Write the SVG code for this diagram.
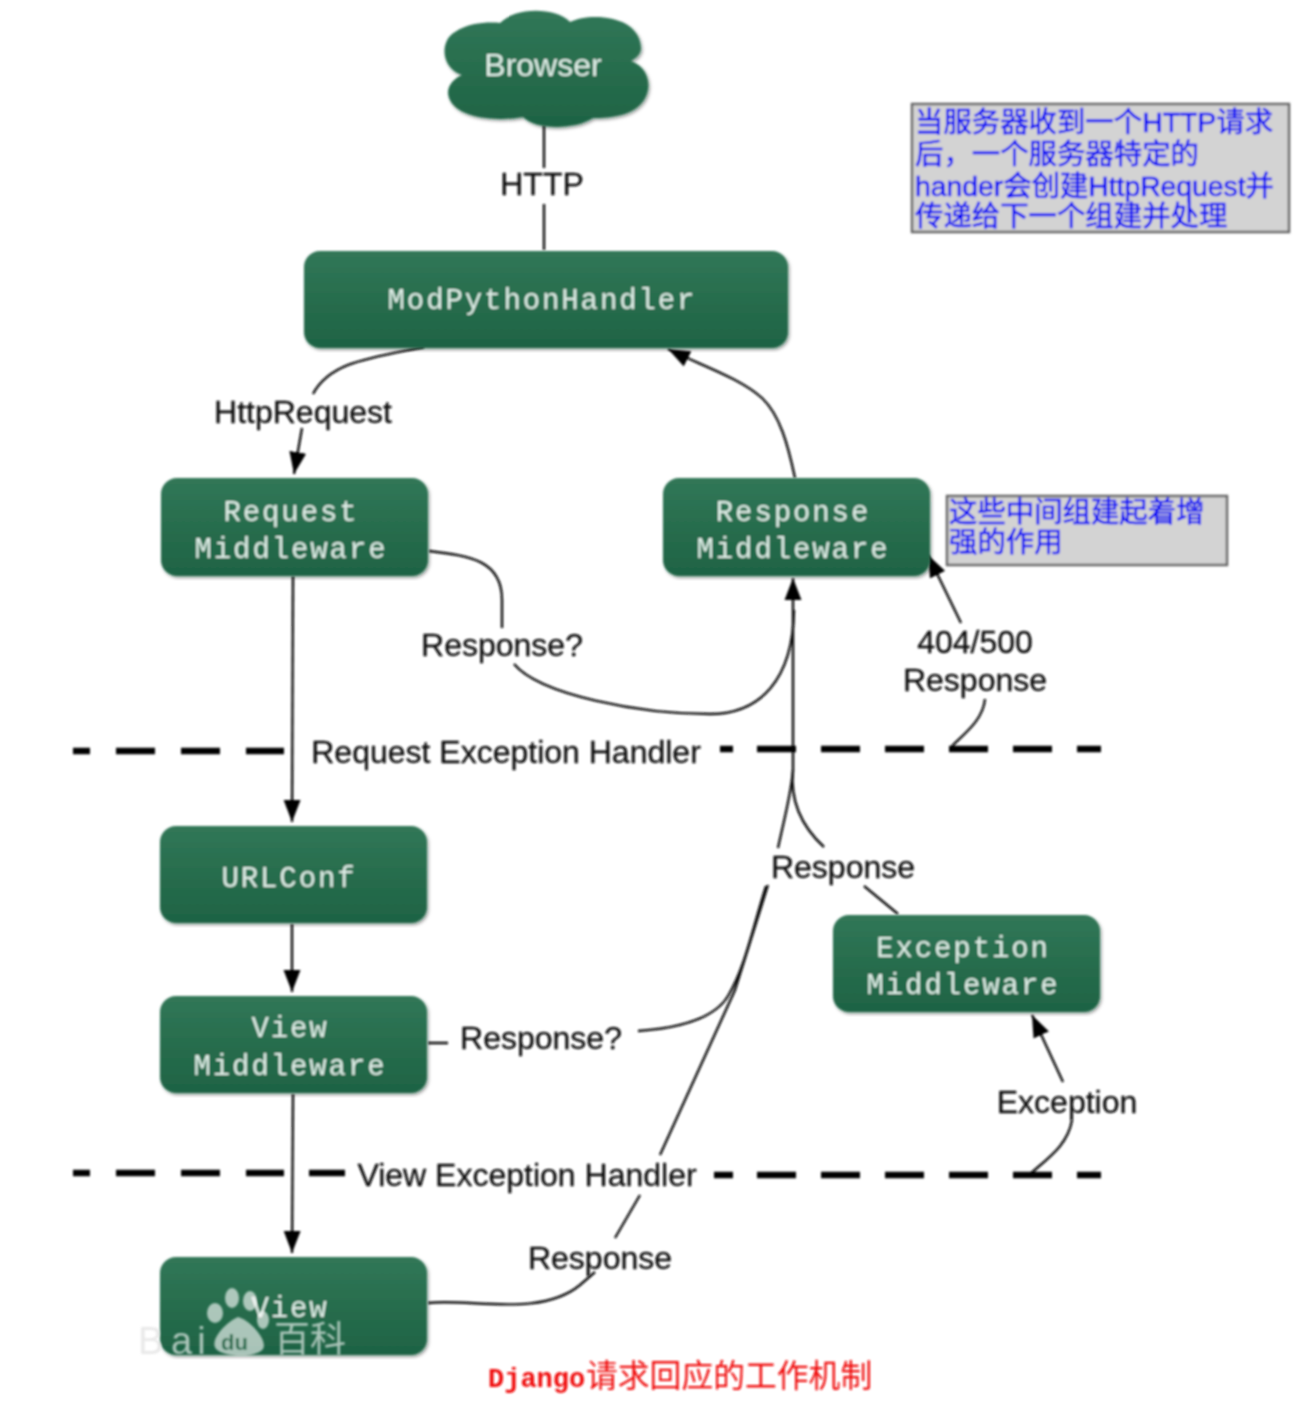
<svg xmlns="http://www.w3.org/2000/svg" width="1316" height="1418" viewBox="0 0 1316 1418">
<defs>
<linearGradient id="g" x1="0" y1="0" x2="0" y2="1"><stop offset="0" stop-color="#317757"/><stop offset="1" stop-color="#1e6344"/></linearGradient>
<filter id="s" x="-5%" y="-10%" width="110%" height="125%"><feDropShadow dx="1.5" dy="2" stdDeviation="1.5" flood-color="#000" flood-opacity=".4"/></filter>
<filter id="b" x="-5%" y="-5%" width="110%" height="110%"><feGaussianBlur stdDeviation="0.9"/></filter>
<marker id="a" markerUnits="userSpaceOnUse" markerWidth="24" markerHeight="20" refX="22" refY="9" orient="auto"><path d="M0 0.5L22 9L0 17.5z" fill="#000"/></marker>
</defs>
<style>
.n{fill:url(#g);filter:url(#s)}
.m{font-family:"Liberation Mono","DejaVu Sans Mono",monospace;font-size:29px;letter-spacing:1.9px;fill:#dfeee7;text-anchor:middle}
.l{font-family:"Liberation Sans",Arial,sans-serif;font-size:32px;fill:#111;stroke:#111;stroke-width:.3px;text-anchor:middle}
.c{fill:none;stroke:#111;stroke-width:2.4}
.d{fill:none;stroke:#000;stroke-width:6.5}
.note{fill:#d3d3d3;stroke:#666;stroke-width:2.5}
.t{font-family:"Liberation Sans","Noto Sans CJK SC",sans-serif;font-size:28.4px;fill:#0000f5;stroke:#0000f5;stroke-width:.5px}
</style>
<g id="connectors" filter="url(#b)">
<path class="c" d="M544 125V168M544 204V250"/>
<path class="c" d="M424 347C370 358 330 362 313 394"/>
<path class="c" marker-end="url(#a)" d="M302 428L294 474"/>
<path class="c" marker-end="url(#a)" d="M795 478C788 445 780 415 762 398C740 378 700 365 668 349"/>
<path class="c" d="M429 551C470 556 502 560 502 600V628M514 664C540 695 640 714 710 714C760 714 793 680 794 610"/>
<path class="c" marker-end="url(#a)" d="M793 770V578"/>
<path class="c" marker-end="url(#a)" d="M961 623L928 555"/>
<path class="c" d="M985 699C983 720 965 733 952 746"/>
<path class="c" marker-end="url(#a)" d="M293 576L292 822"/>
<path class="c" marker-end="url(#a)" d="M292 924V992"/>
<path class="c" marker-end="url(#a)" d="M293 1094L292 1253"/>
<path class="c" d="M428 1043H448M638 1031C680 1028 715 1018 728 996C745 968 752 930 766 886M778 848C785 815 791 795 793 770"/>
<path class="c" d="M793 770C790 800 800 825 824 847M864 886L898 914"/>
<path class="c" d="M428 1303C470 1298 540 1318 580 1285L595 1272M615 1238L640 1195M660 1155L735 990L768 885"/>
<path class="c" marker-end="url(#a)" d="M1063 1082L1032 1015"/>
<path class="c" d="M1072 1120C1068 1145 1048 1158 1030 1174"/>
<path class="d" d="M73 751H90M116 751H155M181 751H220M246 751H284"/>
<path class="d" d="M720 749H733M757 749H796M821 749H860M885 749H924M949 749H988M1013 749H1052M1077 749H1101"/>
<path class="d" d="M73 1173H90M116 1173H155M181 1173H220M246 1173H284M309 1173H345"/>
<path class="d" d="M714 1175H733M757 1175H796M821 1175H860M885 1175H924M949 1175H988M1013 1175H1052M1077 1175H1101"/>
</g>
<g id="browser" filter="url(#b)"><path class="n" d="M500 23C515 7 555 7 570 22C590 12 640 15 641 48C641 54 636 58 631 61C650 68 652 88 644 100C634 116 610 118 593 118C575 130 535 130 523 117C495 122 450 118 448 93C448 84 455 78 462 75C440 68 440 40 455 32C470 22 490 22 500 23Z"/><text x="543" y="76" text-anchor="middle" font-family="Liberation Sans,Arial,sans-serif" font-size="32" fill="#dfeee7">Browser</text></g>
<g id="handler" filter="url(#b)"><rect class="n" x="304" y="251" width="484" height="97" rx="16"/><text class="m" x="542" y="309">ModPythonHandler</text></g>
<g id="request-mw" filter="url(#b)"><rect class="n" x="161" y="478" width="267" height="98" rx="16"/><text class="m" x="291" y="521">Request</text><text class="m" x="291" y="558">Middleware</text></g>
<g id="response-mw" filter="url(#b)"><rect class="n" x="663" y="478" width="267" height="98" rx="16"/><text class="m" x="793" y="521">Response</text><text class="m" x="793" y="558">Middleware</text></g>
<g id="urlconf" filter="url(#b)"><rect class="n" x="160" y="826" width="267" height="97" rx="16"/><text class="m" x="289" y="887">URLConf</text></g>
<g id="view-mw" filter="url(#b)"><rect class="n" x="160" y="996" width="267" height="97" rx="16"/><text class="m" x="290" y="1037">View</text><text class="m" x="290" y="1075">Middleware</text></g>
<g id="exception-mw" filter="url(#b)"><rect class="n" x="833" y="915" width="267" height="97" rx="16"/><text class="m" x="963" y="957">Exception</text><text class="m" x="963" y="994">Middleware</text></g>
<g id="view" filter="url(#b)"><rect class="n" x="160" y="1257" width="267" height="98" rx="16"/><text class="m" x="290" y="1317">View</text></g>
<g id="watermark" filter="url(#b)" opacity=".62" fill="#fff">
<ellipse cx="215" cy="1313" rx="8" ry="10"/><ellipse cx="232" cy="1298" rx="7" ry="10"/><ellipse cx="250" cy="1301" rx="7" ry="10"/><ellipse cx="263" cy="1320" rx="6" ry="9"/>
<path d="M238 1317C250 1320 268 1340 263 1349C256 1358 225 1358 216 1349C209 1340 226 1322 238 1317Z"/>
<text x="138" y="1354" font-family="Liberation Sans,sans-serif" font-size="38" fill="#dcdcdc">B</text>
<text x="171" y="1354" font-family="Liberation Sans,sans-serif" font-size="38" letter-spacing="5">ai</text>
<text x="221" y="1350" font-family="Liberation Sans,sans-serif" font-size="22" font-weight="bold" fill="#2a7050">du</text>
<text x="274" y="1352" font-family="Noto Sans CJK SC,sans-serif" font-size="36">百科</text>
</g>
<g id="labels" filter="url(#b)">
<text class="l" x="542" y="195">HTTP</text>
<text class="l" x="303" y="423">HttpRequest</text>
<text class="l" x="502" y="656">Response?</text>
<text class="l" x="975" y="653">404/500</text>
<text class="l" x="975" y="691">Response</text>
<text class="l" x="506" y="763">Request Exception Handler</text>
<text class="l" x="843" y="878">Response</text>
<text class="l" x="541" y="1049">Response?</text>
<text class="l" x="1067" y="1113">Exception</text>
<text class="l" x="527" y="1186">View Exception Handler</text>
<text class="l" x="600" y="1269">Response</text>
</g>
<g id="note1" filter="url(#b)"><rect class="note" x="912" y="104" width="377" height="128"/>
<text class="t" x="915" y="132">当服务器收到一个HTTP请求</text><text class="t" x="915" y="164">后，一个服务器特定的</text><text class="t" x="915" y="196" textLength="359">hander会创建HttpRequest并</text><text class="t" x="915" y="226">传递给下一个组建并处理</text></g>
<g id="note2" filter="url(#b)"><rect class="note" x="947" y="496" width="280" height="69"/>
<text class="t" x="949" y="522">这些中间组建起着增</text><text class="t" x="949" y="552">强的作用</text></g>
<g id="caption" filter="url(#b)"><text x="488" y="1387" font-family="Liberation Mono,monospace" font-size="27" fill="#f01010" font-weight="bold">Django</text><text x="586" y="1387" font-family="Noto Sans CJK SC,sans-serif" font-size="31.8" fill="#f01010">请求回应的工作机制</text></g>
</svg>
